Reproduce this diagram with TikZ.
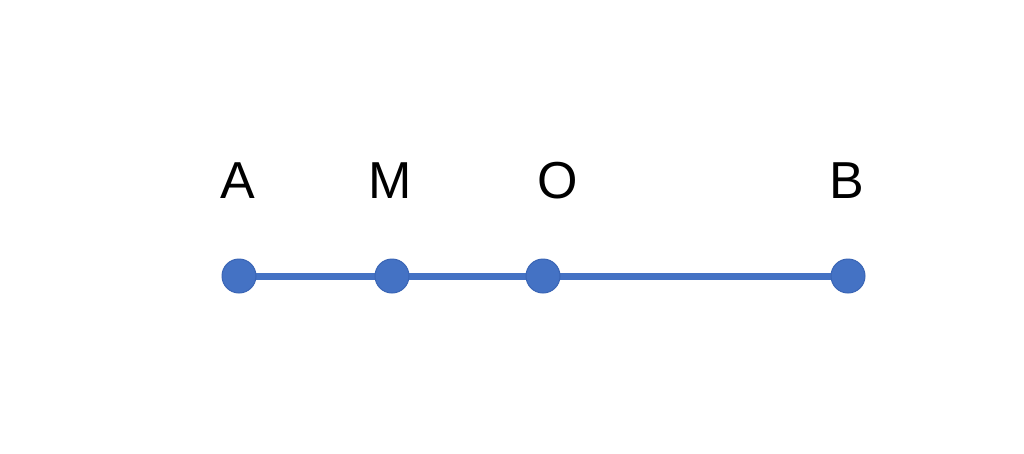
\documentclass[tikz,border=0pt]{standalone}
\usepackage{fontspec}
\setmainfont{Liberation Sans}
\definecolor{dotblue}{HTML}{4472C4}
\definecolor{dotedge}{HTML}{3A65B5}
\begin{document}
\begin{tikzpicture}[x=1pt,y=-1pt,
  pt/.style={circle,fill=dotblue,draw=dotedge,line width=1pt,minimum size=34pt,inner sep=0pt},
  lbl/.style={anchor=base,font=\fontsize{52}{60}\selectfont,inner sep=0pt},
  seg/.style={dotblue,line width=7pt}]
\useasboundingbox[fill=white] (0,0) rectangle (1024,453);
\coordinate (A) at (239,276);
\coordinate (M) at (392,276);
\coordinate (O) at (543,276);
\coordinate (B) at (848,276);
\draw[seg] (A) -- (M) -- (O) -- (B);
\node[pt] (pA) at (A) {};
\node[pt] (pM) at (M) {};
\node[pt] (pO) at (O) {};
\node[pt] (pB) at (B) {};
\node[lbl] (lA) at (238,198) {A};
\node[lbl] (lM) at (390,198) {M};
\node[lbl] (lO) at (558,198) {O};
\node[lbl] (lB) at (847,198) {B};
\end{tikzpicture}
\end{document}
